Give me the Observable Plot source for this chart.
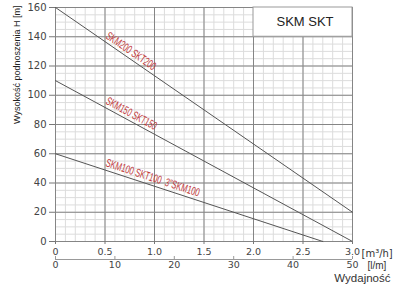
<!DOCTYPE html>
<html><head><meta charset="utf-8">
<script src="https://cdn.jsdelivr.net/npm/d3@7"></script>
<script src="https://cdn.jsdelivr.net/npm/@observablehq/plot@0.6"></script>
<style>body{margin:0;background:#fff}</style>
</head><body><div id="chart"></div>
<script>
// ---- data ----
const seriesNames = ["SKM200 SKT200", "SKM150 SKT150", "SKM100 SKT100  3\"SKM100"];
const flow200 = [0, 3.0], head200 = [160, 20];
const flow150 = [0, 3.0], head150 = [110, 0];
const flow100 = [0, 2.7], head100 = [60, 0];
const flowTicks = [0, 0.5, 1.0, 1.5, 2.0, 2.5, 3.0];
const flowTickLabels = ["0", "0.5", "1.0", "1.5", "2.0", "2.5", "3.0"];
const headTicks = [0, 20, 40, 60, 80, 100, 120, 140, 160];
const lpmTicks = [0, 10, 20, 30, 40, 50];
const lpmPerM3h = 50 / 3;
const labelFlow = [0.5, 0.5, 0.5];
const titleText = "SKM SKT";
const boxFlow = [2.0, 3.0], boxHead = [140, 160];
const yTitle = "Wysokość podnoszenia H [m]";
const unitM3h = "[m³/h]", unitLpm = "[l/m]", xTitle = "Wydajność";

// ---- layout / style ----
const W = 400, H = 285, mL = 55, mR = 48, mT = 7, mB = 44;
const pw = W - mL - mR, ph = H - mT - mB;
const labelLengths = [58, 56, 98];
const red = "#c0393b";

const curves = [
  {name: seriesNames[0], f: flow200, h: head200},
  {name: seriesNames[1], f: flow150, h: head150},
  {name: seriesNames[2], f: flow100, h: head100}
];
const linePts = curves.flatMap(c => c.f.map((f, i) => ({name: c.name, flow: f, head: c.h[i]})));
const labels = curves.map((c, i) => {
  const slope = (c.h[1] - c.h[0]) / (c.f[1] - c.f[0]);
  const x = labelFlow[i];
  const y = c.h[0] + slope * (x - c.f[0]);
  const ang = Math.atan2(-slope * ph / 160, pw / 3);
  return {name: c.name, flow: x, head: y, rot: ang * 180 / Math.PI};
});

const minorX = d3.range(0, 3.0001, 0.1);
const minorY = d3.range(0, 160.001, 5);

const chart = Plot.plot({
  width: W, height: H,
  marginLeft: mL, marginRight: mR, marginTop: mT, marginBottom: mB,
  x: {domain: [0, 3]},
  y: {domain: [0, 160]},
  style: {fontFamily: "DejaVu Sans", fontSize: "10px", background: "#fff"},
  marks: [
    Plot.ruleX(minorX, {stroke: "#dcdcdc", strokeWidth: 1}),
    Plot.ruleY(minorY, {stroke: "#dcdcdc", strokeWidth: 1}),
    Plot.ruleX(flowTicks, {stroke: "#858585", strokeWidth: 1}),
    Plot.ruleY(headTicks, {stroke: "#858585", strokeWidth: 1}),
    Plot.rect([0], {x1: () => boxFlow[0], x2: () => boxFlow[1], y1: () => boxHead[0], y2: () => boxHead[1], fill: "#fff", stroke: "#999"}),
    Plot.text([titleText], {x: () => (boxFlow[0] + boxFlow[1]) / 2, y: () => (boxHead[0] + boxHead[1]) / 2, text: d => d, fontFamily: "Liberation Sans", fontSize: 13, fill: "#222", dx: 2}),
    Plot.line(linePts, {x: "flow", y: "head", z: "name", stroke: "#555", strokeWidth: 1}),
    Plot.text(labels, {x: "flow", y: "head", text: "name", rotate: "rot", dy: -4, textAnchor: "start", lineAnchor: "bottom", fill: red, fontFamily: "Liberation Sans", fontSize: 11.5}),
    Plot.axisY(headTicks, {tickSize: 6, tickPadding: 3, stroke: "#777", fill: "#444", fontSize: 10, label: null}),
    Plot.axisX(flowTicks, {tickSize: 3, tickPadding: 4, stroke: "#777", fill: "#444", fontSize: 9.5, tickFormat: (d, i) => flowTickLabels[i], label: null}),
    Plot.ruleY([0], {x1: 0, x2: 3, dy: 18, stroke: "#999"}),
    Plot.axisX(lpmTicks.map(d => d / lpmPerM3h), {tickSize: 3, tickPadding: 2, dy: 15, stroke: "#999", fill: "#444", fontSize: 9.5, tickFormat: (d, i) => String(lpmTicks[i]), label: null}),
    Plot.text([unitM3h], {x: () => 3, y: () => 0, text: d => d, dx: 9, dy: 12, textAnchor: "start", fill: "#333", fontSize: 10}),
    Plot.text([unitLpm], {x: () => 3, y: () => 0, text: d => d, dx: 15, dy: 24, textAnchor: "start", fill: "#333", fontFamily: "Liberation Sans", fontSize: 10}),
    Plot.text([xTitle], {x: () => 3, y: () => 0, text: d => d, dx: 38, dy: 37, textAnchor: "end", fill: "#333", fontFamily: "Liberation Sans", fontSize: 11.5}),
    Plot.text([yTitle], {frameAnchor: "top-left", text: d => d, rotate: -90, dx: -42, dy: -2, textAnchor: "end", fill: "#222", fontFamily: "Liberation Sans", fontSize: 9})
  ]
});
d3.select(chart).selectAll("text").each(function () {
  const i = seriesNames.indexOf(this.textContent);
  if (i >= 0) {
    this.setAttribute("textLength", labelLengths[i]);
    this.setAttribute("lengthAdjust", "spacingAndGlyphs");
  }
});
document.getElementById("chart").appendChild(chart);
</script>
</body></html>
